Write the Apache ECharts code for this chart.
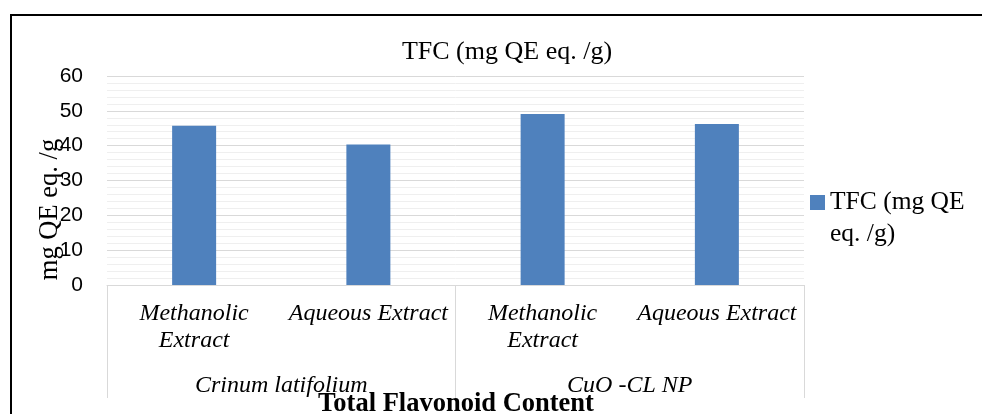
<!DOCTYPE html>
<html>
<head>
<meta charset="utf-8">
<script src="https://cdn.jsdelivr.net/npm/echarts@6/dist/echarts.min.js"></script>
<style>
html,body{margin:0;padding:0;background:#fff;}
#chart{width:982px;height:414px;}
</style>
</head>
<body>
<div id="chart"></div>
<script>
// ---- data ----
const categories = ['Methanolic Extract', 'Aqueous Extract', 'Methanolic Extract', 'Aqueous Extract'];
const groups = ['Crinum latifolium', 'CuO -CL NP'];
const seriesName = 'TFC (mg QE eq. /g)';
const tfcValues = [45.7, 40.3, 49.1, 46.2];
const yTicks = [0, 10, 20, 30, 40, 50, 60];

const chart = echarts.init(document.getElementById('chart'), null, {renderer: 'canvas'});
const serif = '"Liberation Serif", "Times New Roman", serif';
const gridLeft = 107, gridRight = 804, gridTop = 76, gridBottom = 285;

chart.setOption({
  animation: false,
  backgroundColor: '#ffffff',
  title: [
    {
      text: 'TFC (mg QE eq. /g)',
      left: 502, top: 34, textAlign: 'center',
      textStyle: {fontFamily: serif, fontSize: 26, fontWeight: 'normal', color: '#000'}
    },
    {
      text: 'Total Flavonoid Content',
      left: 451, top: 386, textAlign: 'center',
      textStyle: {fontFamily: serif, fontSize: 26.5, fontWeight: 'bold', color: '#000'}
    }
  ],
  legend: {
    left: 805, top: 181,
    orient: 'vertical',
    itemWidth: 15, itemHeight: 46,
    icon: 'path://M0,0L15,0L15,15L0,15Z M0,46',
    data: [seriesName],
    formatter: function () { return 'TFC (mg QE\neq. /g)'; },
    textStyle: {fontFamily: serif, fontSize: 25.5, color: '#000', lineHeight: 32}
  },
  grid: {left: gridLeft, right: 982 - gridRight, top: gridTop, bottom: 414 - gridBottom},
  xAxis: [
    {
      type: 'category',
      position: 'bottom',
      data: categories,
      axisLine: {show: true, lineStyle: {color: '#d9d9d9', width: 1}},
      axisTick: {show: false},
      axisLabel: {
        interval: 0,
        margin: 15,
        fontFamily: serif, fontStyle: 'italic', fontSize: 24, color: '#000', lineHeight: 27,
        formatter: function (v) { return v === 'Methanolic Extract' ? 'Methanolic\nExtract' : v; }
      }
    },
    {
      type: 'category',
      position: 'bottom',
      data: groups,
      axisLine: {show: false},
      axisTick: {show: true, length: 113, lineStyle: {color: '#d9d9d9', width: 1}},
      axisLabel: {
        interval: 0, margin: 87,
        fontFamily: serif, fontStyle: 'italic', fontSize: 24, color: '#000', lineHeight: 27
      },
      splitLine: {show: false}
    }
  ],
  yAxis: {
    type: 'value',
    min: yTicks[0], max: yTicks[yTicks.length - 1], interval: 10,
    name: 'mg QE eq. /g',
    nameLocation: 'middle',
    nameGap: 43,
    nameMoveOverlap: false,
    nameRotate: 90,
    nameTextStyle: {fontFamily: serif, fontSize: 26.5, color: '#000', padding: [0, 58, 0, 0]},
    axisLine: {show: false},
    axisTick: {show: false},
    axisLabel: {margin: 24, fontFamily: '"Liberation Sans", Arial, sans-serif', fontSize: 21, color: '#000'},
    splitLine: {show: true, lineStyle: {color: '#d9d9d9', width: 1}},
    minorTick: {show: false, splitNumber: 5},
    minorSplitLine: {show: true, lineStyle: {color: '#efefef', width: 1}}
  },
  series: [
    {
      name: seriesName,
      type: 'bar',
      xAxisIndex: 0,
      data: tfcValues,
      barWidth: 44,
      itemStyle: {color: '#4f81bd'}
    }
  ],
  graphic: [
    {type: 'line', shape: {x1: 11, y1: 15, x2: 982, y2: 15}, style: {stroke: '#000', lineWidth: 2}, silent: true},
    {type: 'line', shape: {x1: 11, y1: 14, x2: 11, y2: 414}, style: {stroke: '#000', lineWidth: 2}, silent: true}
  ]
});
</script>
</body>
</html>
